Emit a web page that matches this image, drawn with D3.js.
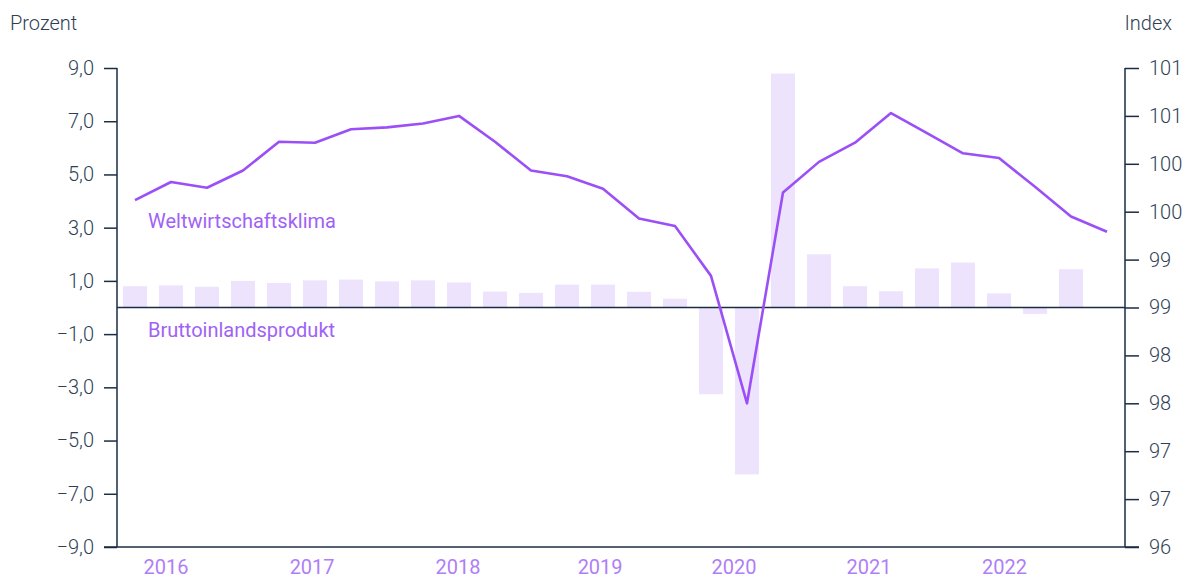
<!DOCTYPE html>
<html>
<head>
<meta charset="utf-8">
<script src="https://cdn.jsdelivr.net/npm/d3@7"></script>
<style>
  body { margin: 0; background: #fff; }
  text { font-family: Roboto, "Noto Sans", sans-serif; }
</style>
</head>
<body>
<div id="chart"></div>
<script>
// Data
//-----------
var quarters = ["2016Q1","2016Q2","2016Q3","2016Q4","2017Q1","2017Q2","2017Q3","2017Q4",
  "2018Q1","2018Q2","2018Q3","2018Q4","2019Q1","2019Q2","2019Q3","2019Q4",
  "2020Q1","2020Q2","2020Q3","2020Q4","2021Q1","2021Q2","2021Q3","2021Q4",
  "2022Q1","2022Q2","2022Q3","2022Q4"];

// Bruttoinlandsprodukt, Prozent (left axis)
var gdp = [0.80, 0.83, 0.78, 1.00, 0.92, 1.02, 1.05, 0.98,
  1.02, 0.94, 0.60, 0.55, 0.86, 0.86, 0.59, 0.33,
  -3.26, -6.27, 8.79, 2.00, 0.80, 0.61, 1.47, 1.69,
  0.53, -0.24, 1.44];

// Weltwirtschaftsklima, Index (right axis)
var climate = [99.62, 99.81, 99.75, 99.93, 100.23, 100.22, 100.36, 100.38,
  100.42, 100.50, 100.23, 99.93, 99.87, 99.74, 99.43, 99.35,
  98.83, 97.50, 99.70, 100.02, 100.22, 100.53, 100.32, 100.11,
  100.06, 99.76, 99.45, 99.29];

var years = ["2016","2017","2018","2019","2020","2021","2022"];
var yearTickQuarter = [0.86, 4.92, 8.97, 12.92, 16.64, 20.39, 24.15];

var leftTicks = [9, 7, 5, 3, 1, -1, -3, -5, -7, -9];
var rightTicks = [96, 96.5, 97, 97.5, 98, 98.5, 99, 99.5, 100, 100.5, 101];

// Layout
//-----------
var W = 1189, H = 579;
var plotL = 117, plotR = 1125, plotT = 68, plotB = 547;

var axisColor = "#1b2d44";
var textColor = "#2e3f55";
var lineColor = "#9b4ff6";
var barColor = "#ede3fd";
var labelColor = "#a062f6";
var yearColor = "#b07ef7";

var de = d3.formatLocale({decimal: ",", thousands: ".", grouping: [3], currency: ["", " €"], minus: "\u2212"});

var x = d3.scaleBand(quarters, [plotL, plotR]).paddingInner(1/3).paddingOuter(1/6);
var xq = d3.scaleLinear([0, quarters.length - 1], [x(quarters[0]) + x.bandwidth()/2, x(quarters[quarters.length-1]) + x.bandwidth()/2]);
var yL = d3.scaleLinear([-9, 9], [plotB, plotT]);
var yR = d3.scaleLinear([96, 101], [plotB, plotT]);

var svg = d3.select("#chart").append("svg")
  .attr("width", W)
  .attr("height", H);

// Bars
//-----------
svg.append("g").selectAll("rect")
  .data(gdp)
  .enter()
  .append("rect")
  .attr("x", function(d, i) { return x(quarters[i]); })
  .attr("y", function(d) { return Math.min(yL(d), yL(0)); })
  .attr("width", x.bandwidth())
  .attr("height", function(d) { return Math.abs(yL(d) - yL(0)); })
  .attr("fill", barColor);

// Axes
//-----------
var leftAxis = d3.axisLeft(yL).tickValues(leftTicks).tickSize(13).tickPadding(10).tickFormat(de.format(".1f"));
var gL = svg.append("g").attr("transform", "translate(" + plotL + ",0)").call(leftAxis);

var rightAxis = d3.axisRight(yR).tickValues(rightTicks).tickSize(14).tickPadding(10).tickFormat(d3.format(".0f"));
var gR = svg.append("g").attr("transform", "translate(" + plotR + ",0)").call(rightAxis);

[gL, gR].forEach(function(g) {
  g.select(".domain").remove();
  g.selectAll("line").attr("stroke", axisColor).attr("stroke-width", 1.5);
  g.selectAll("text").attr("fill", textColor).attr("font-size", "20px").attr("font-weight", 300);
});

// axis lines
svg.append("line").attr("x1", plotL).attr("x2", plotL).attr("y1", yL(9)).attr("y2", yL(-9))
  .attr("stroke", axisColor).attr("stroke-width", 1.5);
svg.append("line").attr("x1", plotR).attr("x2", plotR).attr("y1", yR(101)).attr("y2", yR(96))
  .attr("stroke", axisColor).attr("stroke-width", 1.5);
svg.append("line").attr("x1", plotL - 13).attr("x2", plotR + 14).attr("y1", yL(-9)).attr("y2", yL(-9))
  .attr("stroke", axisColor).attr("stroke-width", 1.5);
// zero line
svg.append("line").attr("x1", plotL).attr("x2", plotR).attr("y1", yL(0)).attr("y2", yL(0))
  .attr("stroke", axisColor).attr("stroke-width", 1.5);

// Line
//-----------
var line = d3.line()
  .x(function(d, i) { return xq(i); })
  .y(function(d) { return yR(d); });

svg.append("path")
  .datum(climate)
  .attr("d", line)
  .attr("fill", "none")
  .attr("stroke", lineColor)
  .attr("stroke-width", 2.6)
  .attr("stroke-linejoin", "round");

// Year labels
//-----------
svg.append("g").selectAll("text")
  .data(years)
  .enter()
  .append("text")
  .text(function(d) { return d; })
  .attr("x", function(d, i) { return xq(yearTickQuarter[i]); })
  .attr("y", 574)
  .attr("text-anchor", "middle")
  .attr("font-size", "20px")
  .attr("fill", yearColor);

// Titles and series labels
//-----------
svg.append("text").text("Prozent")
  .attr("x", 10).attr("y", 30)
  .attr("font-size", "20px").attr("font-weight", 300).attr("fill", textColor);
svg.append("text").text("Index")
  .attr("x", 1172).attr("y", 30).attr("text-anchor", "end")
  .attr("font-size", "20px").attr("font-weight", 300).attr("fill", textColor);

svg.append("text").text("Weltwirtschaftsklima")
  .attr("x", 148).attr("y", 228)
  .attr("font-size", "20px").attr("fill", labelColor);
svg.append("text").text("Bruttoinlandsprodukt")
  .attr("x", 148).attr("y", 337)
  .attr("font-size", "20px").attr("fill", labelColor);
</script>
</body>
</html>
